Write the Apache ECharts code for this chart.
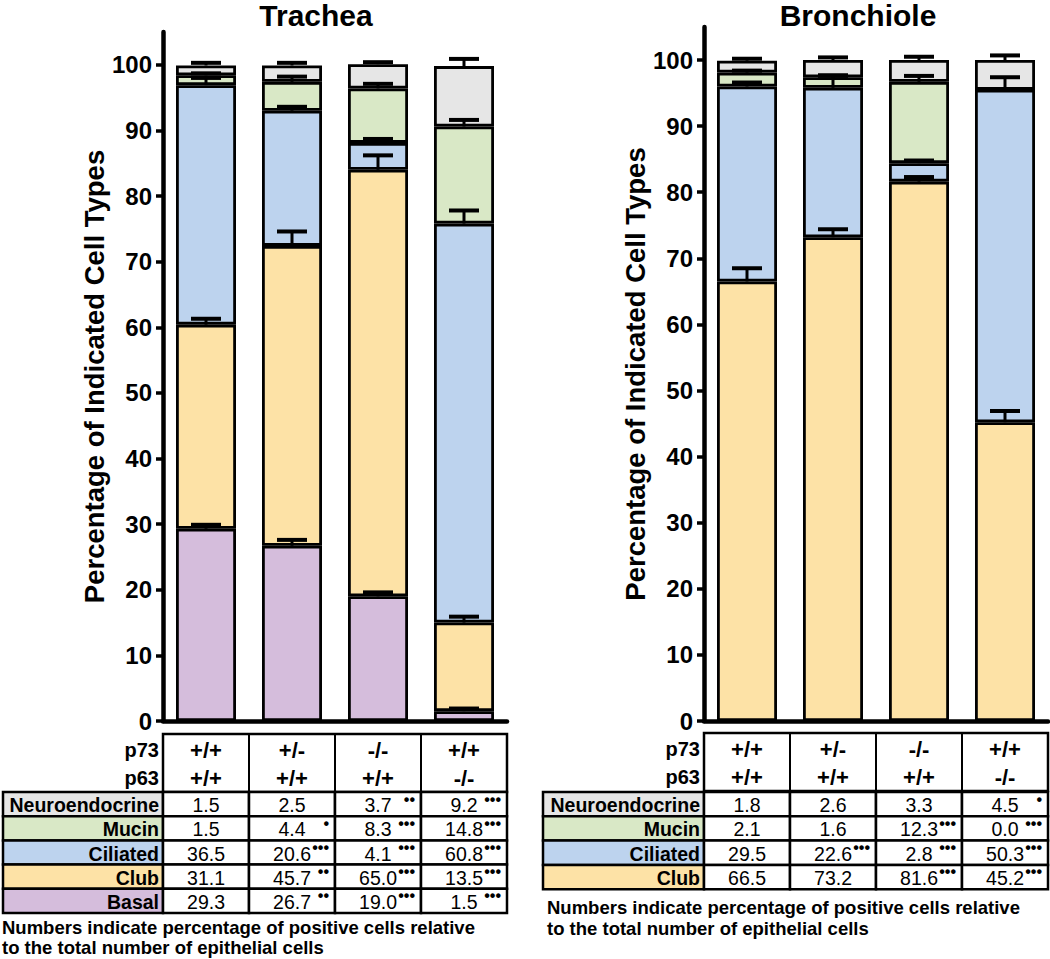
<!DOCTYPE html>
<html><head><meta charset="utf-8">
<script src="https://cdn.jsdelivr.net/npm/echarts@6/dist/echarts.min.js"></script>
<style>html,body{margin:0;padding:0;background:#fff}#c{width:1050px;height:959px}</style>
</head><body><div id="c"></div>
<script>
const FONT = '"Liberation Sans", Arial, Helvetica, sans-serif';

// ---- shared labels ----
const genotypes = ['WT', 'p73het', 'p73KO', 'p63KO'];
const p73Row = ['+/+', '+/-', '-/-', '+/+'];
const p63Row = ['+/+', '+/+', '+/+', '-/-'];
const yTickValues = [0, 10, 20, 30, 40, 50, 60, 70, 80, 90, 100];

// ---- Trachea (bottom to top) ----
const trBasal      = [29.3, 26.7, 19.0, 1.5];
const trClub       = [31.1, 45.7, 65.0, 13.5];
const trCiliated   = [36.5, 20.6, 4.1, 60.8];
const trMucin      = [1.5, 4.4, 8.3, 14.8];
const trNeuro      = [1.5, 2.5, 3.7, 9.2];
const trBasalErr    = [0.6, 0.9, 0.6, 0.4];
const trClubErr     = [0.9, 2.2, 2.2, 0.9];
const trCiliatedErr = [1.1, 0.6, 0.6, 2.0];
const trMucinErr    = [0.3, 0.8, 0.7, 1.0];
const trNeuroErr    = [0.4, 0.4, 0.3, 1.1];
const trBasalSig    = ['', '••', '•••', '•••'];
const trClubSig     = ['', '••', '•••', '•••'];
const trCiliatedSig = ['', '•••', '•••', '•••'];
const trMucinSig    = ['', '•', '•••', '•••'];
const trNeuroSig    = ['', '', '••', '•••'];

// ---- Bronchiole (bottom to top) ----
const brClub       = [66.5, 73.2, 81.6, 45.2];
const brCiliated   = [29.5, 22.6, 2.8, 50.3];
const brMucin      = [2.1, 1.6, 12.3, 0.0];
const brNeuro      = [1.8, 2.6, 3.3, 4.5];
const brClubErr     = [2.0, 1.2, 0.7, 1.7];
const brCiliatedErr = [0.6, 1.8, 0.4, 1.9];
const brMucinErr    = [0.3, 0.3, 0.9, 0];
const brNeuroErr    = [0.3, 0.4, 0.5, 0.7];
const brClubSig     = ['', '', '•••', '•••'];
const brCiliatedSig = ['', '•••', '•••', '•••'];
const brMucinSig    = ['', '', '•••', '•••'];
const brNeuroSig    = ['', '', '', '•'];

const COLORS = {
  Neuroendocrine: '#e6e6e6',
  Mucin: '#d9e8c6',
  Ciliated: '#bdd3ee',
  Club: '#fde2a6',
  Basal: '#d5bddc'
};

const trSeries = [
  {name: 'Basal', v: trBasal, e: trBasalErr, s: trBasalSig},
  {name: 'Club', v: trClub, e: trClubErr, s: trClubSig},
  {name: 'Ciliated', v: trCiliated, e: trCiliatedErr, s: trCiliatedSig},
  {name: 'Mucin', v: trMucin, e: trMucinErr, s: trMucinSig},
  {name: 'Neuroendocrine', v: trNeuro, e: trNeuroErr, s: trNeuroSig}
];
const brSeries = [
  {name: 'Club', v: brClub, e: brClubErr, s: brClubSig},
  {name: 'Ciliated', v: brCiliated, e: brCiliatedErr, s: brCiliatedSig},
  {name: 'Mucin', v: brMucin, e: brMucinErr, s: brMucinSig},
  {name: 'Neuroendocrine', v: brNeuro, e: brNeuroErr, s: brNeuroSig}
];

// ---- layout ----
const G = [
  {left: 163, top: 32, width: 344, height: 689, nameGap: 53},
  {left: 704, top: 27, width: 344, height: 694, nameGap: 49}
];

function errData(list) {
  const out = [];
  const cum = [0, 0, 0, 0];
  list.forEach(sr => {
    sr.v.forEach((val, i) => {
      cum[i] += val;
      if (sr.e[i] > 0) out.push([i, cum[i], cum[i] + sr.e[i]]);
    });
  });
  return out;
}

function errRender(params, api) {
  const x = api.value(0);
  const p0 = api.coord([x, api.value(1)]);
  const p1 = api.coord([x, api.value(2)]);
  const half = 15;
  return {
    type: 'group',
    children: [
      {type: 'line', shape: {x1: p0[0], y1: p0[1], x2: p1[0], y2: p1[1]}, style: {stroke: '#000', lineWidth: 3}},
      {type: 'line', shape: {x1: p1[0] - half, y1: p1[1], x2: p1[0] + half, y2: p1[1]}, style: {stroke: '#000', lineWidth: 4}}
    ]
  };
}

const series = [];
[trSeries, brSeries].forEach((list, gi) => {
  list.forEach(sr => {
    series.push({
      type: 'bar', name: sr.name, stack: 'g' + gi,
      xAxisIndex: gi, yAxisIndex: gi,
      barWidth: 60,
      data: sr.v,
      itemStyle: {color: COLORS[sr.name], borderColor: '#000', borderWidth: 2.8},
      emphasis: {disabled: true},
      z: 2
    });
  });
  series.push({
    type: 'custom', xAxisIndex: gi, yAxisIndex: gi,
    renderItem: errRender, data: errData(list),
    encode: {x: 0, y: [1, 2]}, z: 5, silent: true
  });
});

const xAxes = G.map((g, gi) => ({
  type: 'category', gridIndex: gi, data: genotypes,
  axisLine: {lineStyle: {color: '#000', width: 4.5}},
  axisTick: {alignWithLabel: true, length: 7, lineStyle: {color: '#000', width: 4}},
  axisLabel: {show: false}
}));
const yAxes = G.map((g, gi) => ({
  type: 'value', gridIndex: gi, min: 0, max: 105, interval: 10,
  splitLine: {show: false},
  axisLine: {show: true, lineStyle: {color: '#000', width: 4.5}},
  axisTick: {show: true, length: 7, customValues: yTickValues, lineStyle: {color: '#000', width: 3.5}},
  axisLabel: {customValues: yTickValues, margin: 11, color: '#000', fontFamily: FONT, fontWeight: 'bold', fontSize: 24},
  name: 'Percentage of Indicated Cell Types', nameLocation: 'middle', nameGap: g.nameGap, nameRotate: 90,
  nameTextStyle: {color: '#000', fontFamily: FONT, fontWeight: 'bold', fontSize: 27.5}
}));

// ---- tables ----
function txt(x, y, text, size, weight, align, valign) {
  return {type: 'text', x: x, y: y, silent: true, z: 10,
    style: {text: text, fill: '#000', fontFamily: FONT, fontSize: size, fontWeight: weight,
      align: align, textAlign: align, verticalAlign: valign || 'middle', textVerticalAlign: valign || 'middle'}};
}
function rect(x, y, w, h, fill, lw) {
  return {type: 'rect', silent: true, z: 8, shape: {x: x, y: y, width: w, height: h},
    style: {fill: fill, stroke: '#000', lineWidth: lw || 2}};
}

function buildTable(g, list, t) {
  const els = [];
  const colW = g.width / 4;
  els.push(rect(g.left, t.hTop, g.width, t.hBot - t.hTop, '#fff', 2.5));
  for (let i = 1; i < 4; i++) {
    els.push({type: 'line', silent: true, z: 9, shape: {x1: g.left + colW * i, y1: t.hTop, x2: g.left + colW * i, y2: t.hBot}, style: {stroke: '#000', lineWidth: 2}});
  }
  els.push(txt(g.left - 4, t.r1, 'p73', 20, 'bold', 'right'));
  els.push(txt(g.left - 4, t.r2, 'p63', 20, 'bold', 'right'));
  for (let i = 0; i < 4; i++) {
    const cx = g.left + colW * (i + 0.5);
    els.push(txt(cx, t.r1, p73Row[i], 22, 'bold', 'center'));
    els.push(txt(cx, t.r2, p63Row[i], 22, 'bold', 'center'));
  }
  const rows = list.slice().reverse();
  rows.forEach((sr, r) => {
    const y = t.dTop + r * t.rowH;
    els.push(rect(t.labLeft, y, g.left - t.labLeft, t.rowH, COLORS[sr.name], 2.5));
    els.push(txt(g.left - 4, y + t.rowH / 2 + 1, sr.name, 19.5, 'bold', 'right'));
    for (let i = 0; i < 4; i++) {
      const x0 = g.left + colW * i;
      els.push(rect(x0, y, colW, t.rowH, '#fff', 2.5));
      els.push(txt(x0 + colW / 2, y + t.rowH / 2 + 1, sr.v[i].toFixed(1), 19.5, 'normal', 'center'));
      if (sr.s[i]) els.push(txt(x0 + colW - 6, y + 7, sr.s[i], 16, 'bold', 'right'));
    }
  });
  t.notes.forEach((line, k) => {
    els.push(txt(t.noteX, t.noteY[k], line, 18.5, 'bold', 'left'));
  });
  return els;
}

const noteLines = ['Numbers indicate percentage of positive cells relative', 'to the total number of epithelial cells'];

const graphics = [].concat(
  buildTable(G[0], trSeries, {hTop: 734, hBot: 792, r1: 750, r2: 778, dTop: 792, rowH: 24.2, labLeft: 3, notes: noteLines, noteX: 2, noteY: [927, 947]}),
  buildTable(G[1], brSeries, {hTop: 733, hBot: 791, r1: 749, r2: 777, dTop: 792, rowH: 24.3, labLeft: 543, notes: noteLines, noteX: 547, noteY: [907, 928]}),
  [txt(316, 15, 'Trachea', 30, 'bold', 'center'), txt(858, 15, 'Bronchiole', 30, 'bold', 'center')]
);

const chart = echarts.init(document.getElementById('c'), null, {renderer: 'svg'});
chart.setOption({
  backgroundColor: '#fff',
  animation: false,
  grid: G.map(g => ({left: g.left, top: g.top, width: g.width, height: g.height, containLabel: false, outerBoundsMode: 'none'})),
  xAxis: xAxes,
  yAxis: yAxes,
  series: series,
  graphic: {elements: graphics}
});
</script>
</body></html>
